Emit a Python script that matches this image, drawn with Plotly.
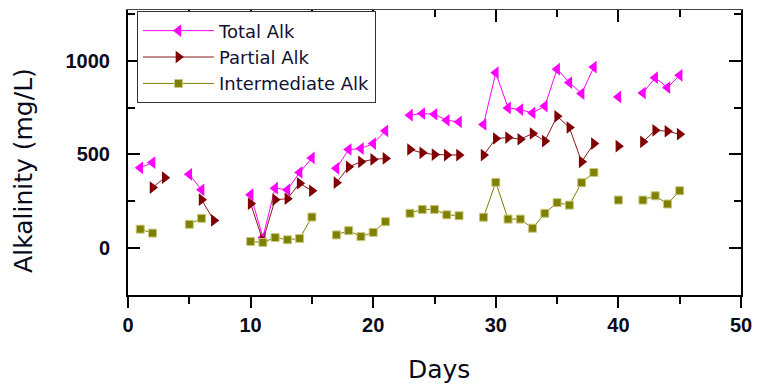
import plotly.graph_objects as go

days = [1, 2, 3, 4, 5, 6, 7, 8, 9, 10, 11, 12, 13, 14, 15, 16, 17, 18, 19, 20, 21, 22, 23,
        24, 25, 26, 27, 28, 29, 30, 31, 32, 33, 34, 35, 36, 37, 38, 39, 40, 41, 42, 43, 44, 45]

total_alk = [428, 456, None, None, 393, 310, None, None, None, 284, 54, 319, 310, 403, 481,
             None, 425, 526, 531, 558, 626, None, 710, 719, 715, 683, 674, None, 660, 938,
             749, 740, 722, 759, 957, 885, 826, 968, None, 808, None, 829, 911, 858, 924]

partial_alk = [None, 322, 375, None, None, 257, 146, None, None, 236, 37, 257, 262, 345, 305,
               None, 348, 433, 460, 473, 478, None, 526, 508, 499, 496, 496, None, 496, 585,
               590, 581, 612, 571, 704, 644, 460, 558, None, 544, None, 567, 629, 624, 608]

intermediate_alk = [99, 78, None, None, 125, 157, None, None, None, 33, 28, 54, 42, 49, 164,
                    None, 68, 91, 59, 82, 139, None, 184, 205, 205, 176, 171, None, 163, 350,
                    153, 153, 104, 184, 241, 228, 348, 403, None, 255, None, 255, 278, 234, 305]

x_ticks = [0, 10, 20, 30, 40, 50]
y_ticks = [0, 500, 1000]

FONT = "Liberation Sans, Arial, sans-serif"
TFONT = "DejaVu Sans, sans-serif"
TXT = "#0a0a1a"

fig = go.Figure()
fig.add_trace(go.Scatter(
    x=days, y=total_alk, name="Total Alk", mode="lines+markers",
    line=dict(color="#FF00FF", width=1),
    marker=dict(symbol="triangle-left", size=11, color="#FF00FF"),
    connectgaps=False))
fig.add_trace(go.Scatter(
    x=days, y=partial_alk, name="Partial Alk", mode="lines+markers",
    line=dict(color="#8B1A1A", width=1),
    marker=dict(symbol="triangle-right", size=11, color="#800000"),
    connectgaps=False))
fig.add_trace(go.Scatter(
    x=days, y=intermediate_alk, name="Intermediate Alk", mode="lines+markers",
    line=dict(color="#808000", width=1),
    marker=dict(symbol="square", size=8, color="#808000",
                line=dict(color="#C8C880", width=1)),
    connectgaps=False))
# invisible trace to carry the top axis (inside ticks)
fig.add_trace(go.Scatter(x=[0, 50], y=[None, None], xaxis="x2", showlegend=False,
                         hoverinfo="skip"))

fig.update_layout(
    width=762, height=386,
    margin=dict(l=128, r=17, t=10, b=91),
    paper_bgcolor="white", plot_bgcolor="white",
    font=dict(family=FONT, color="black"),
    showlegend=True,
    legend=dict(x=0.0146, y=0.995, xanchor="left", yanchor="top",
                bordercolor="#333333", borderwidth=1, bgcolor="white",
                font=dict(size=18, family=TFONT, color="#111133"),
                itemwidth=71, tracegroupgap=0),
    xaxis=dict(
        range=[0, 50], tickvals=x_ticks, ticks="outside", ticklen=11, tickwidth=2,
        tickcolor="black", showline=True, linecolor="black", linewidth=2,
        showgrid=False, zeroline=False,
        minor=dict(dtick=5, ticks="outside", ticklen=7, tickwidth=2, tickcolor="black"),
        tickfont=dict(size=20, family=FONT, weight="bold", color=TXT)),
    xaxis2=dict(
        range=[0, 50], overlaying="x", side="top", tickvals=x_ticks, ticks="inside",
        ticklen=12, tickwidth=2, tickcolor="black", showticklabels=False,
        showline=True, linecolor="#444444", linewidth=1, showgrid=False, zeroline=False,
        minor=dict(dtick=5, ticks="inside", ticklen=7, tickwidth=2, tickcolor="black")),
    yaxis=dict(
        range=[-254, 1274], tickvals=y_ticks, ticks="inside", ticklen=12, tickwidth=2,
        tickcolor="black", showline=True, linecolor="black", linewidth=2, mirror="ticks",
        showgrid=False, zeroline=False,
        minor=dict(dtick=250, ticks="inside", ticklen=7, tickwidth=2, tickcolor="black"),
        ticklabelstandoff=12,
        tickfont=dict(size=20, family=FONT, weight="bold", color=TXT)),
    annotations=[
        dict(text="Alkalinity (mg/L)", xref="paper", yref="paper",
             x=-0.1694, y=0.436, xanchor="center", yanchor="middle", textangle=-90,
             showarrow=False, font=dict(size=25, family=TFONT, color=TXT)),
        dict(text="Days", xref="paper", yref="paper",
             x=0.5067, y=-0.262, xanchor="center", yanchor="middle",
             showarrow=False, font=dict(size=25, family=TFONT, color=TXT)),
    ],
)

fig.write_html("out.html")
